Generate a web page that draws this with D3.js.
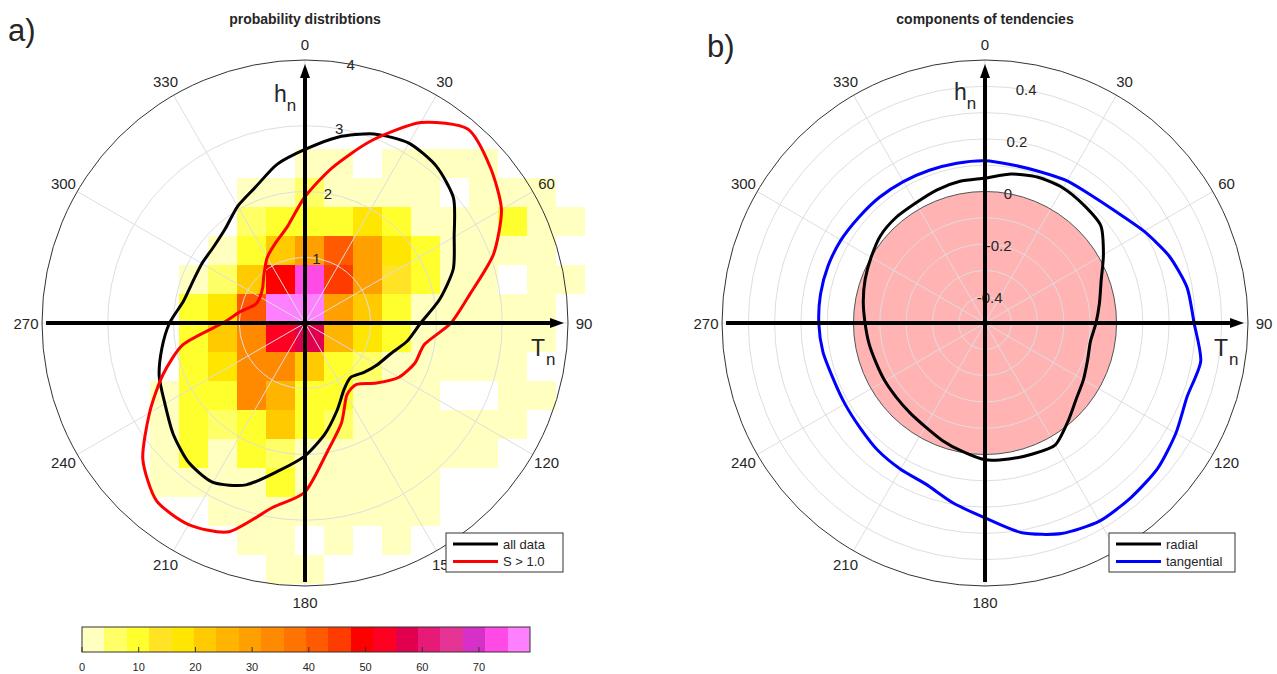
<!DOCTYPE html>
<html>
<head>
<meta charset="utf-8">
<script src="https://cdn.jsdelivr.net/npm/d3@7"></script>
<style>
  body { margin: 0; background: #fff; }
  svg { display: block; }
  text { font-family: "Liberation Sans", Arial, Helvetica, sans-serif; fill: #262626; }
</style>
</head>
<body>
<svg id="chart" width="1277" height="674"></svg>
<script>
// ---- data ----
const angleTicks = [0, 30, 60, 90, 120, 150, 180, 210, 240, 270, 300, 330];
const curveAngles = [0, 10, 20, 30, 40, 50, 60, 70, 80, 90, 100, 110, 120, 130, 140, 150, 160, 170,
  180, 190, 200, 210, 220, 230, 240, 250, 260, 270, 280, 290, 300, 310, 320, 330, 340, 350];

// panel a: contours
const allDataR = [2.64, 2.87, 3.06, 3.16, 3.11, 2.95, 2.62, 2.40, 2.08, 1.76, 1.58, 1.38, 1.27, 1.17, 1.08, 1.18, 1.42, 1.72,
  2.02, 2.28, 2.62, 2.80, 2.76, 2.62, 2.46, 2.36, 2.21, 2.06, 1.88, 1.82, 1.81, 1.81, 1.88, 2.05, 2.20, 2.45];
const sAboveR = [1.92, 2.40, 2.95, 3.52, 3.85, 3.68, 3.45, 3.05, 2.55, 2.22, 1.85, 1.78, 1.65, 1.42, 1.22, 1.27, 1.62, 1.98,
  2.57, 2.85, 3.38, 3.54, 3.52, 3.22, 2.73, 2.30, 1.88, 1.25, 1.00, 0.81, 0.79, 0.84, 0.97, 1.15, 1.30, 1.50];

// panel b: components
const radialR = [0.051, 0.075, 0.090, 0.093, 0.085, 0.075, 0.020, -0.030, -0.058, -0.078, -0.093, -0.085, -0.068, -0.048, -0.010, 0.035, 0.030, 0.025,
  0.020, -0.004, -0.025, -0.045, -0.055, -0.060, -0.060, -0.059, -0.052, -0.044, -0.030, -0.015, 0.000, 0.018, 0.025, 0.027, 0.038, 0.047];
const tangentialR = [0.117, 0.110, 0.112, 0.124, 0.132, 0.155, 0.198, 0.245, 0.280, 0.295, 0.333, 0.318, 0.338, 0.358, 0.365, 0.370, 0.352, 0.310,
  0.241, 0.195, 0.153, 0.142, 0.133, 0.120, 0.115, 0.115, 0.126, 0.132, 0.135, 0.135, 0.132, 0.126, 0.124, 0.121, 0.118, 0.117];

const rTicksA = [1, 2, 3, 4];
const rTicksB = [-0.4, -0.2, 0, 0.2, 0.4];
const rGridB = [-0.4, -0.3, -0.2, -0.1, 0, 0.1, 0.2, 0.3, 0.4];

// 2d histogram bins (Tn across, hn down)
const tnEdges = [-2.36, -1.92, -1.48, -1.03, -0.59, -0.15, 0.29, 0.73, 1.17, 1.61, 2.05, 2.50, 2.94, 3.38, 3.82, 4.26];
const hnEdges = [2.65, 2.21, 1.76, 1.32, 0.88, 0.44, 0, -0.44, -0.88, -1.32, -1.76, -2.21, -2.65, -3.09, -3.53, -3.97];
const counts = [
  [0, 0, 0, 0, 0, 2, 2, 0, 2, 2, 2, 2, 0, 0, 0],
  [0, 0, 0, 2, 2, 6, 2, 2, 2, 2, 0, 2, 2, 2, 0],
  [0, 0, 0, 6, 10, 10, 10, 18, 10, 2, 2, 2, 10, 2, 2],
  [0, 0, 2, 10, 22, 30, 42, 30, 18, 10, 2, 2, 2, 2, 0],
  [0, 2, 6, 22, 50, 74, 46, 30, 14, 10, 2, 2, 0, 2, 2],
  [0, 10, 18, 42, 78, 78, 30, 22, 10, 2, 2, 2, 2, 2, 0],
  [0, 10, 22, 34, 54, 58, 26, 18, 10, 2, 2, 2, 2, 2, 0],
  [0, 10, 18, 34, 34, 22, 10, 6, 2, 2, 2, 2, 2, 0, 0],
  [2, 10, 10, 34, 26, 10, 10, 2, 2, 2, 0, 0, 2, 2, 0],
  [2, 10, 6, 10, 22, 10, 6, 2, 2, 2, 2, 2, 2, 0, 0],
  [2, 10, 2, 10, 6, 2, 2, 2, 2, 2, 2, 2, 0, 0, 0],
  [2, 2, 2, 2, 10, 2, 2, 2, 2, 2, 0, 0, 0, 0, 0],
  [0, 0, 2, 2, 2, 2, 2, 2, 2, 2, 0, 0, 0, 0, 0],
  [0, 0, 0, 2, 2, 0, 2, 0, 2, 0, 0, 0, 0, 0, 0],
  [0, 0, 0, 0, 2, 2, 0, 0, 0, 0, 0, 0, 0, 0, 0]
];

const colorLevels = ["#ffffc0", "#ffff66", "#ffff2e", "#ffe324", "#ffe600", "#ffcb00", "#ffb400", "#ffa000", "#ff8a00", "#ff7400",
  "#ff5a00", "#ff3c00", "#ff0000", "#ff0022", "#e0004e", "#e81a78", "#e63496", "#d630c8", "#ff4ae6", "#ff80ff"];
const cbTicks = [0, 10, 20, 30, 40, 50, 60, 70];
const cbMax = 79;

// ---- layout ----
const svg = d3.select("#chart");
const R = 263;
const labelR = 279;
const gridColor = "#dedede";

const rad = (deg) => (deg * Math.PI) / 180;
const polarX = (deg, r) => Math.sin(rad(deg)) * r;
const polarY = (deg, r) => -Math.cos(rad(deg)) * r;

// draw grid circles, spokes, angle labels
const drawSpokes = (g) => {
  g.selectAll("line.spoke")
    .data(angleTicks)
    .join("line")
    .attr("class", "spoke")
    .attr("x1", 0).attr("y1", 0)
    .attr("x2", (d) => polarX(d, R))
    .attr("y2", (d) => polarY(d, R))
    .attr("stroke", gridColor)
    .attr("stroke-width", 1);
};

const drawAngleLabels = (g) => {
  g.selectAll("text.ang")
    .data(angleTicks)
    .join("text")
    .attr("class", "ang")
    .attr("x", (d) => polarX(d, labelR))
    .attr("y", (d) => polarY(d, labelR))
    .attr("text-anchor", "middle")
    .attr("dominant-baseline", "central")
    .attr("font-size", 15)
    .text((d) => d);
};

const drawAxes = (g, lab) => {
  const L = 259;
  g.append("line")
    .attr("x1", -L).attr("y1", 0).attr("x2", L - 8).attr("y2", 0)
    .attr("stroke", "black").attr("stroke-width", 4);
  g.append("path")
    .attr("d", `M${L},0 L${L - 14},-5 L${L - 14},5 Z`)
    .attr("fill", "black");
  g.append("line")
    .attr("x1", 0).attr("y1", L).attr("x2", 0).attr("y2", -L + 8)
    .attr("stroke", "black").attr("stroke-width", 4);
  g.append("path")
    .attr("d", `M0,${-L} L-5,${-L + 14} L5,${-L + 14} Z`)
    .attr("fill", "black");

  // axis names
  const h = g.append("text").attr("x", lab.hx).attr("y", lab.hy).attr("font-size", 23);
  h.append("tspan").text("h");
  h.append("tspan").attr("font-size", 17).attr("dy", 9).text("n");
  const t = g.append("text").attr("x", lab.tx).attr("y", lab.ty).attr("font-size", 23);
  t.append("tspan").text("T");
  t.append("tspan").attr("font-size", 17).attr("dy", 9).attr("dx", 1).text("n");
};

const drawLegend = (x, y, items) => {
  const lg = svg.append("g").attr("transform", `translate(${x},${y})`);
  lg.append("rect")
    .attr("width", items.w).attr("height", 39)
    .attr("fill", "white").attr("stroke", "#333").attr("stroke-width", 1);
  items.rows.forEach((it, i) => {
    const yy = 11 + i * 17.5;
    lg.append("line")
      .attr("x1", 7).attr("x2", 52).attr("y1", yy).attr("y2", yy)
      .attr("stroke", it.color).attr("stroke-width", 3);
    lg.append("text")
      .attr("x", 57).attr("y", yy)
      .attr("dominant-baseline", "central")
      .attr("font-size", 13)
      .text(it.label);
  });
};

// ================= panel a =================
const gA = svg.append("g").attr("transform", "translate(305,323)");
const rA = d3.scaleLinear().domain([0, 4]).range([0, R]);
const xA = d3.scaleLinear().domain([-4, 4]).range([-R, R]);
const yA = d3.scaleLinear().domain([-4, 4]).range([R, -R]);
const color = d3.scaleQuantize().domain([0, cbMax]).range(colorLevels);

const cells = [];
counts.forEach((row, i) => row.forEach((v, j) => { if (v > 0) cells.push({ i, j, v }); }));

gA.selectAll("rect.cell")
  .data(cells)
  .join("rect")
  .attr("class", "cell")
  .attr("x", (d) => xA(tnEdges[d.j]))
  .attr("y", (d) => yA(hnEdges[d.i]))
  .attr("width", (d) => xA(tnEdges[d.j + 1]) - xA(tnEdges[d.j]))
  .attr("height", (d) => yA(hnEdges[d.i + 1]) - yA(hnEdges[d.i]))
  .attr("fill", (d) => color(d.v))
  .attr("shape-rendering", "crispEdges");

gA.selectAll("circle.grid")
  .data(rTicksA.slice(0, -1))
  .join("circle")
  .attr("class", "grid")
  .attr("r", (d) => rA(d))
  .attr("fill", "none")
  .attr("stroke", gridColor);
drawSpokes(gA);
gA.append("circle").attr("r", rA(4)).attr("fill", "none").attr("stroke", "#333").attr("stroke-width", 1);

gA.selectAll("text.rtick")
  .data(rTicksA)
  .join("text")
  .attr("class", "rtick")
  .attr("x", (d) => polarX(10, rA(d)))
  .attr("y", (d) => polarY(10, rA(d)))
  .attr("text-anchor", "middle")
  .attr("dominant-baseline", "central")
  .attr("font-size", 15)
  .text((d) => d);

drawAngleLabels(gA);

const lineA = d3.lineRadial()
  .angle((d) => rad(d[0]))
  .radius((d) => rA(d[1]))
  .curve(d3.curveCardinalClosed.tension(0.3));

gA.append("path")
  .attr("d", lineA(d3.zip(curveAngles, allDataR)))
  .attr("fill", "none").attr("stroke", "black").attr("stroke-width", 3);
gA.append("path")
  .attr("d", lineA(d3.zip(curveAngles, sAboveR)))
  .attr("fill", "none").attr("stroke", "#ff0000").attr("stroke-width", 3);

drawAxes(gA, { hx: -31, hy: -221, tx: 226, ty: 33 });

svg.append("text")
  .attr("x", 305).attr("y", 24)
  .attr("text-anchor", "middle")
  .attr("font-size", 14).attr("font-weight", "bold")
  .text("probability distribtions");
svg.append("text").attr("x", 8).attr("y", 41).attr("font-size", 31).text("a)");

drawLegend(446, 533, { w: 117, rows: [
  { color: "black", label: "all data" },
  { color: "#ff0000", label: "S > 1.0" }
] });

// colorbar
const cbX = d3.scaleLinear().domain([0, cbMax]).range([82, 530]);
const cbEdges = [0, ...color.thresholds(), cbMax];
const cb = svg.append("g");
cb.selectAll("rect")
  .data(colorLevels)
  .join("rect")
  .attr("x", (d, i) => cbX(cbEdges[i]))
  .attr("y", 627)
  .attr("width", (d, i) => cbX(cbEdges[i + 1]) - cbX(cbEdges[i]))
  .attr("height", 25)
  .attr("fill", (d) => d)
  .attr("shape-rendering", "crispEdges");
cb.append("rect")
  .attr("x", cbX(0)).attr("y", 627)
  .attr("width", cbX(cbMax) - cbX(0)).attr("height", 25)
  .attr("fill", "none").attr("stroke", "#333").attr("stroke-width", 1);
cb.selectAll("line.tk")
  .data(cbTicks)
  .join("line")
  .attr("class", "tk")
  .attr("x1", (d) => cbX(d)).attr("x2", (d) => cbX(d))
  .attr("y1", 652).attr("y2", 647)
  .attr("stroke", "#333");
cb.selectAll("text")
  .data(cbTicks)
  .join("text")
  .attr("x", (d) => cbX(d))
  .attr("y", 667)
  .attr("text-anchor", "middle")
  .attr("dominant-baseline", "central")
  .attr("font-size", 11)
  .text((d) => d);

// ================= panel b =================
const gB = svg.append("g").attr("transform", "translate(985,323)");
const rB = d3.scaleLinear().domain([-0.5, 0.5]).range([0, R]);

gB.append("circle")
  .attr("r", rB(0))
  .attr("fill", "#ffb3b3");
gB.selectAll("circle.grid")
  .data(rGridB)
  .join("circle")
  .attr("class", "grid")
  .attr("r", (d) => rB(d))
  .attr("fill", "none")
  .attr("stroke", gridColor);
drawSpokes(gB);
gB.append("circle").attr("r", rB(0)).attr("fill", "none").attr("stroke", "#555").attr("stroke-width", 1);
gB.append("circle").attr("r", rB(0.5)).attr("fill", "none").attr("stroke", "#333").attr("stroke-width", 1);

gB.selectAll("text.rtick")
  .data(rTicksB)
  .join("text")
  .attr("class", "rtick")
  .attr("x", (d) => polarX(10, rB(d)))
  .attr("y", (d) => polarY(10, rB(d)))
  .attr("text-anchor", "middle")
  .attr("dominant-baseline", "central")
  .attr("font-size", 15)
  .text((d) => d);

drawAngleLabels(gB);

const lineB = d3.lineRadial()
  .angle((d) => rad(d[0]))
  .radius((d) => rB(d[1]))
  .curve(d3.curveCardinalClosed.tension(0.3));

gB.append("path")
  .attr("d", lineB(d3.zip(curveAngles, radialR)))
  .attr("fill", "none").attr("stroke", "black").attr("stroke-width", 3);
gB.append("path")
  .attr("d", lineB(d3.zip(curveAngles, tangentialR)))
  .attr("fill", "none").attr("stroke", "#0000ff").attr("stroke-width", 3);

drawAxes(gB, { hx: -31, hy: -223, tx: 229, ty: 33 });

svg.append("text")
  .attr("x", 985).attr("y", 24)
  .attr("text-anchor", "middle")
  .attr("font-size", 14).attr("font-weight", "bold")
  .text("components of tendencies");
svg.append("text").attr("x", 707).attr("y", 57).attr("font-size", 31).text("b)");

drawLegend(1109, 533, { w: 126, rows: [
  { color: "black", label: "radial" },
  { color: "#0000ff", label: "tangential" }
] });
</script>
</body>
</html>
